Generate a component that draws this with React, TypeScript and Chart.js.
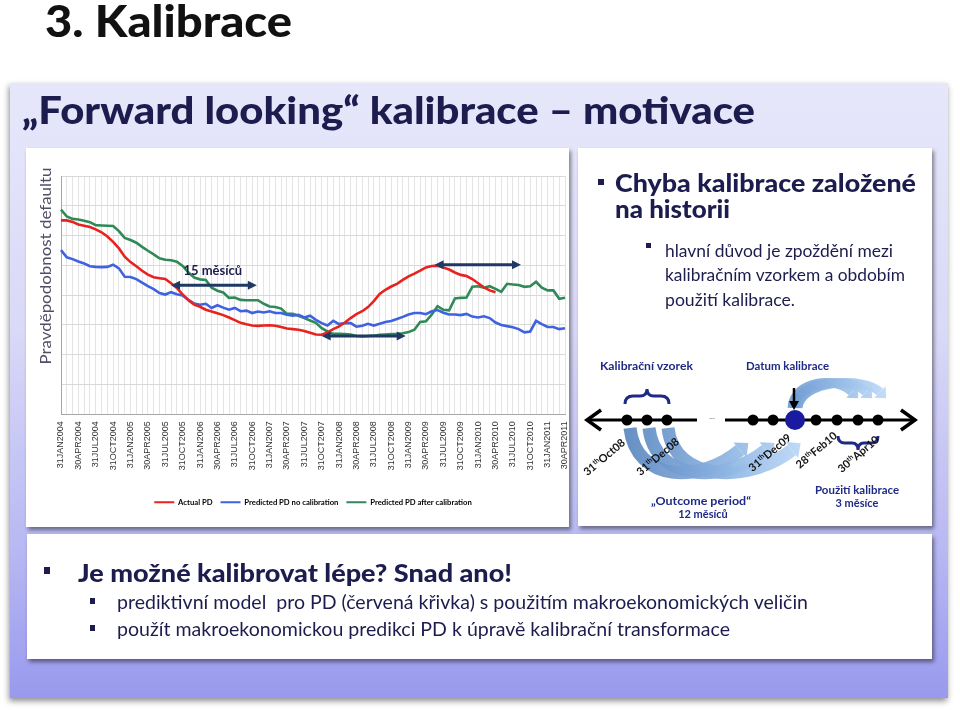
import { useEffect, useRef } from "react";
import { Chart, registerables } from "chart.js";

Chart.register(...registerables);

// ---------- DATA ----------
const monthLabels = [
  "31JAN2004","29FEB2004","31MAR2004","30APR2004","31MAY2004","30JUN2004","31JUL2004","31AUG2004","30SEP2004","31OCT2004","30NOV2004","31DEC2004",
  "31JAN2005","28FEB2005","31MAR2005","30APR2005","31MAY2005","30JUN2005","31JUL2005","31AUG2005","30SEP2005","31OCT2005","30NOV2005","31DEC2005",
  "31JAN2006","28FEB2006","31MAR2006","30APR2006","31MAY2006","30JUN2006","31JUL2006","31AUG2006","30SEP2006","31OCT2006","30NOV2006","31DEC2006",
  "31JAN2007","28FEB2007","31MAR2007","30APR2007","31MAY2007","30JUN2007","31JUL2007","31AUG2007","30SEP2007","31OCT2007","30NOV2007","31DEC2007",
  "31JAN2008","29FEB2008","31MAR2008","30APR2008","31MAY2008","30JUN2008","31JUL2008","31AUG2008","30SEP2008","31OCT2008","30NOV2008","31DEC2008",
  "31JAN2009","28FEB2009","31MAR2009","30APR2009","31MAY2009","30JUN2009","31JUL2009","31AUG2009","30SEP2009","31OCT2009","30NOV2009","31DEC2009",
  "31JAN2010","28FEB2010","31MAR2010","30APR2010","31MAY2010","30JUN2010","31JUL2010","31AUG2010","30SEP2010","31OCT2010","30NOV2010","31DEC2010",
  "31JAN2011","28FEB2011","31MAR2011","30APR2011",
];

const actualPD = [
  6.51,6.51,6.46,6.37,6.33,6.29,6.21,6.11,5.97,5.79,
  5.57,5.29,5.11,4.97,4.82,4.69,4.60,4.57,4.54,4.40,
  4.24,4.02,3.83,3.68,3.61,3.51,3.45,3.39,3.33,3.25,
  3.16,3.07,3.02,2.98,2.97,2.98,2.99,2.97,2.93,2.88,
  2.86,2.84,2.80,2.74,2.68,2.67,2.75,2.86,2.95,3.08,
  3.23,3.36,3.46,3.60,3.80,4.04,4.18,4.29,4.38,4.51,
  4.63,4.72,4.82,4.93,4.98,4.99,4.93,4.86,4.76,4.68,
  4.64,4.54,4.40,4.26,4.16,4.10,
  null,null,null,null,null,null,null,null,null,null,null,null,
];

const predictedNoCalibration = [
  5.51,5.27,5.21,5.13,5.06,4.97,4.95,4.94,4.95,5.02,
  4.90,4.62,4.61,4.54,4.42,4.30,4.20,4.07,4.02,4.10,
  4.03,3.99,3.84,3.72,3.68,3.71,3.57,3.66,3.58,3.51,
  3.57,3.46,3.48,3.40,3.45,3.42,3.46,3.40,3.40,3.34,
  3.31,3.34,3.25,3.31,3.17,3.06,2.98,3.14,3.03,3.06,
  3.06,2.94,2.97,3.04,2.98,3.04,3.10,3.13,3.20,3.27,
  3.35,3.40,3.40,3.36,3.46,3.50,3.41,3.35,3.35,3.33,
  3.37,3.28,3.25,3.29,3.23,3.08,3.00,2.96,2.92,2.86,
  2.75,2.78,3.14,3.03,2.93,2.93,2.86,2.89,
];

const predictedAfterCalibration = [
  6.87,6.64,6.56,6.54,6.50,6.45,6.35,6.34,6.33,6.32,
  6.15,5.92,5.85,5.76,5.62,5.49,5.37,5.24,5.19,5.17,
  5.12,4.98,4.76,4.59,4.53,4.51,4.25,4.15,4.09,3.91,
  3.92,3.84,3.83,3.83,3.83,3.71,3.62,3.60,3.55,3.37,
  3.37,3.31,3.23,3.15,3.07,2.89,2.78,2.70,2.70,2.69,
  2.68,2.63,2.61,2.63,2.64,2.67,2.68,2.69,2.70,2.72,
  2.76,2.84,3.10,3.12,3.35,3.63,3.51,3.49,3.89,3.91,
  3.92,4.28,4.30,4.25,4.30,4.21,4.11,4.38,4.36,4.34,
  4.28,4.30,4.45,4.25,4.16,4.16,3.88,3.91,
];

const seriesNames = ["Actual PD", "Predicted PD no calibration", "Predicted PD after calibration"];
const seriesColors = ["#e8231f", "#3f62e0", "#2f8a57"];

// lag annotations (category index range, value level)
const lagArrows = [
  { from: 19, to: 33.8, value: 4.33 },
  { from: 45, to: 59.5, value: 2.63 },
  { from: 64.5, to: 79.4, value: 5.02 },
];
const lagLabel = { text: "15 měsíců", index: 26.2, value: 4.68 };

const NAVY = "#1c1c4e";
const DIAG = "#1f2a86";

const arrowPlugin = {
  id: "lagArrows",
  afterDatasetsDraw(chart: any) {
    const { ctx } = chart;
    const x = chart.scales.x;
    const y = chart.scales.y;
    ctx.save();
    ctx.strokeStyle = "#1f3864";
    ctx.fillStyle = "#1f3864";
    ctx.lineWidth = 3;
    for (const a of lagArrows) {
      const x1 = x.getPixelForValue(a.from);
      const x2 = x.getPixelForValue(a.to);
      const yy = y.getPixelForValue(a.value);
      const h = 9, w = 4.5;
      ctx.beginPath();
      ctx.moveTo(x1 + h - 1, yy);
      ctx.lineTo(x2 - h + 1, yy);
      ctx.stroke();
      ctx.beginPath();
      ctx.moveTo(x1, yy); ctx.lineTo(x1 + h, yy - w); ctx.lineTo(x1 + h, yy + w); ctx.closePath(); ctx.fill();
      ctx.beginPath();
      ctx.moveTo(x2, yy); ctx.lineTo(x2 - h, yy - w); ctx.lineTo(x2 - h, yy + w); ctx.closePath(); ctx.fill();
    }
    ctx.font = "bold 13px Lato";
    ctx.fillStyle = NAVY;
    ctx.textAlign = "center";
    ctx.textBaseline = "alphabetic";
    ctx.fillText(lagLabel.text, x.getPixelForValue(lagLabel.index), y.getPixelForValue(lagLabel.value));
    ctx.restore();
  },
};

function curvedArrow(p0: number[], p1: number[], p2: number[], p3: number[], width: number, head: number, fill: string, key: string) {
  const dx = p3[0] - p2[0], dy = p3[1] - p2[1];
  const len = Math.hypot(dx, dy);
  const ux = dx / len, uy = dy / len;
  const nx = -uy, ny = ux;
  const tip = [p3[0] + ux * head * 1.1, p3[1] + uy * head * 1.1];
  const a = [p3[0] + nx * head, p3[1] + ny * head];
  const b = [p3[0] - nx * head, p3[1] - ny * head];
  return (
    <g key={key} opacity={0.92}>
      <path d={`M${p0[0]} ${p0[1]} C${p1[0]} ${p1[1]} ${p2[0]} ${p2[1]} ${p3[0]} ${p3[1]}`} stroke={fill} strokeWidth={width} fill="none" />
      <polygon points={`${tip[0]},${tip[1]} ${a[0]},${a[1]} ${b[0]},${b[1]}`} fill={fill} />
    </g>
  );
}

function DateLabel({ x, y, day, rest }: { x: number; y: number; day: string; rest: string }) {
  return (
    <text transform={`translate(${x},${y}) rotate(-40)`} textAnchor="end" fontWeight="bold" fontSize="11" fill="#111">
      {day}
      <tspan fontSize="7" dy="-4">th</tspan>
      <tspan dy="4">{rest}</tspan>
    </text>
  );
}

export default function App() {
  const canvasRef = useRef<HTMLCanvasElement>(null);

  useEffect(() => {
    if (!canvasRef.current) return;
    const data = [actualPD, predictedNoCalibration, predictedAfterCalibration];
    const chart = new Chart(canvasRef.current, {
      type: "line",
      data: {
        labels: monthLabels,
        datasets: data.map((d, i) => ({
          label: seriesNames[i],
          data: d,
          borderColor: seriesColors[i],
          backgroundColor: seriesColors[i],
          borderWidth: 2.6,
          pointRadius: 0,
          tension: 0,
          spanGaps: false,
        })),
      },
      options: {
        responsive: false,
        animation: false,
        layout: { padding: { left: 35, right: 4, top: 28, bottom: 11 } },
        plugins: {
          tooltip: { enabled: false },
          legend: {
            position: "bottom",
            labels: {
              boxWidth: 20,
              boxHeight: 2,
              padding: 8,
              color: "#000",
              font: { family: "Lato", size: 7.7, weight: "bold" },
              generateLabels: (c: any) =>
                (Chart.defaults.plugins.legend.labels.generateLabels as any)(c).map((l: any) => ({ ...l, lineWidth: 0 })),
            },
          },
        },
        scales: {
          x: {
            grid: { color: "#e4e4e4", drawTicks: false },
            border: { color: "#a6a6a6" },
            ticks: {
              autoSkip: false,
              maxRotation: 90,
              minRotation: 90,
              padding: 7,
              color: "#333",
              font: { family: "Liberation Sans", size: 9 },
              callback: (_v: any, i: number) => (i % 3 === 0 ? monthLabels[i] : ""),
            },
            afterFit: (s: any) => {
              s.height = 76;
              s.paddingLeft = 0;
              s.paddingRight = 0;
            },
          },
          y: {
            min: 0,
            max: 8,
            ticks: { display: false, stepSize: 1 },
            grid: { color: "#d9d9d9", drawTicks: false },
            border: { color: "#a6a6a6" },
            afterFit: (s: any) => {
              s.width = 0;
              s.paddingTop = 0;
              s.paddingBottom = 0;
            },
          },
        },
      } as any,
      plugins: [arrowPlugin],
    });
    return () => chart.destroy();
  }, []);

  const panelShadow = "2px 3px 4px rgba(0,0,0,0.45)";

  const lowerFan = [0, 1, 2].map((k) =>
    curvedArrow(
      [630 + 19 * k, 428],
      [636 + 19 * k, 482],
      [700 + 24 * k, 484],
      [740 + 26 * k, 450],
      13,
      10,
      "url(#lowFan)",
      "lf" + k
    )
  );
  const upperFan = [0, 1, 2].map((k) =>
    curvedArrow(
      [792 + 3 * k, 408],
      [794 + 3 * k, 380],
      [836 + 14 * k, 376],
      [852 + 14 * k, 392],
      9,
      8,
      "url(#upFan)",
      "uf" + k
    )
  );

  return (
    <div style={{ position: "absolute", left: 0, top: 0, width: 960, height: 711, overflow: "hidden", background: "#fff" }}>
      {/* lavender box */}
      <div
        style={{
          position: "absolute", left: 10, top: 83, width: 938, height: 615,
          background: "linear-gradient(180deg, #e7e7fb 0%, #d9d9f8 40%, #b9b9f3 75%, #9999ee 100%)",
          boxShadow: "-1px 3px 6px rgba(0,0,0,0.45)",
        }}
      />
      {/* left chart panel */}
      <div style={{ position: "absolute", left: 26, top: 148, width: 543, height: 379, background: "#fff", boxShadow: panelShadow }} />
      {/* right panel */}
      <div style={{ position: "absolute", left: 578, top: 148, width: 354, height: 378, background: "#fff", boxShadow: panelShadow }} />
      {/* bottom panel */}
      <div style={{ position: "absolute", left: 27, top: 534, width: 905, height: 125, background: "#fff", boxShadow: panelShadow }} />

      <canvas ref={canvasRef} width={543} height={379} style={{ position: "absolute", left: 26, top: 148, width: 543, height: 379 }} />

      <svg width={960} height={711} style={{ position: "absolute", left: 0, top: 0, pointerEvents: "none" }} fontFamily="Lato, sans-serif">
        <defs>
          <linearGradient id="lowFan" x1="625" y1="0" x2="815" y2="0" gradientUnits="userSpaceOnUse">
            <stop offset="0" stopColor="#5a86bf" />
            <stop offset="0.55" stopColor="#8fb6e3" />
            <stop offset="1" stopColor="#c3defa" />
          </linearGradient>
          <linearGradient id="upFan" x1="790" y1="0" x2="895" y2="0" gradientUnits="userSpaceOnUse">
            <stop offset="0" stopColor="#6e9bd2" />
            <stop offset="1" stopColor="#c5e0fb" />
          </linearGradient>
        </defs>

        {/* titles */}
        <text x={45} y={37} fontSize={43} fontWeight={900} fill="#111" textLength={247} lengthAdjust="spacingAndGlyphs">3. Kalibrace</text>
        <text x={22} y={124} fontSize={37} fontWeight={900} fill={NAVY} textLength={733} lengthAdjust="spacingAndGlyphs">„Forward looking“ kalibrace – motivace</text>

        {/* y axis title */}
        <text transform="translate(51,266) rotate(-90)" textAnchor="middle" fontSize={15} fill="#4f4f66" textLength={197} lengthAdjust="spacingAndGlyphs">Pravděpodobnost defaultu</text>

        {/* right panel text */}
        <rect x={598} y={179} width={6} height={6} fill={NAVY} />
        <text x={615} y={192} fontSize={24} fontWeight={900} fill={NAVY} textLength={301} lengthAdjust="spacingAndGlyphs">Chyba kalibrace založené</text>
        <text x={615} y={218} fontSize={24} fontWeight={900} fill={NAVY} textLength={115} lengthAdjust="spacingAndGlyphs">na historii</text>
        <rect x={646} y={243} width={5} height={5} fill={NAVY} />
        <text x={665} y={257} fontSize={17} fill={NAVY} textLength={228} lengthAdjust="spacingAndGlyphs">hlavní důvod je zpoždění mezi</text>
        <text x={665} y={281} fontSize={17} fill={NAVY} textLength={240} lengthAdjust="spacingAndGlyphs">kalibračním vzorkem a obdobím</text>
        <text x={665} y={306} fontSize={17} fill={NAVY} textLength={130} lengthAdjust="spacingAndGlyphs">použití kalibrace.</text>

        {/* timeline diagram */}
        <text x={600} y={370} fontSize={11} fontWeight="bold" fill={DIAG} textLength={93} lengthAdjust="spacingAndGlyphs">Kalibrační vzorek</text>
        <text x={746} y={370} fontSize={11} fontWeight="bold" fill={DIAG} textLength={83} lengthAdjust="spacingAndGlyphs">Datum kalibrace</text>

        {lowerFan}
        {upperFan}

        <path d="M625 404 Q625 396 633 396 L640 396 Q647 396 647 389 Q647 396 654 396 L661 396 Q669 396 669 404" stroke={DIAG} strokeWidth={3} fill="none" />
        <path d="M838 436 Q838 443 845 443 L852 443 Q858 443 858 450 Q858 443 864 443 L871 443 Q878 443 878 436" stroke={DIAG} strokeWidth={3} fill="none" />

        <line x1={588} y1={420} x2={697} y2={420} stroke="#000" strokeWidth={3} />
        <polyline points="601,410 587,420 601,430" stroke="#000" strokeWidth={3.5} fill="none" />
        <text x={712} y={419} textAnchor="middle" fontSize={8} fill="#666">...</text>
        <line x1={725} y1={420} x2={914} y2={420} stroke="#000" strokeWidth={3} />
        <polyline points="901,410 915,420 901,430" stroke="#000" strokeWidth={3.5} fill="none" />

        {[627, 647, 667, 753, 773, 816, 837, 858, 878].map((cx) => (
          <circle key={cx} cx={cx} cy={420} r={5.5} fill="#000" />
        ))}
        <circle cx={795} cy={420} r={10} fill="#1a1a9e" />
        <line x1={794} y1={388} x2={794} y2={402} stroke="#000" strokeWidth={2.5} />
        <polygon points="789,401 799,401 794,410" fill="#000" />

        <DateLabel x={626} y={444} day="31" rest="Oct08" />
        <DateLabel x={680} y={443} day="31" rest="Dec08" />
        <DateLabel x={792} y={439} day="31" rest="Dec09" />
        <DateLabel x={838} y={437} day="28" rest="Feb10" />
        <DateLabel x={880} y={441} day="30" rest="Apr10" />

        <text x={651} y={505} fontSize={11} fontWeight="bold" fill={DIAG} textLength={100} lengthAdjust="spacingAndGlyphs">„Outcome period“</text>
        <text x={703} y={518} textAnchor="middle" fontSize={11} fontWeight="bold" fill={DIAG}>12 měsíců</text>
        <text x={815} y={494} fontSize={11} fontWeight="bold" fill={DIAG} textLength={84} lengthAdjust="spacingAndGlyphs">Použití kalibrace</text>
        <text x={857} y={507} textAnchor="middle" fontSize={11} fontWeight="bold" fill={DIAG}>3 měsíce</text>

        {/* bottom panel text */}
        <rect x={44} y={567} width={6} height={7} fill={NAVY} />
        <text x={78} y={582} fontSize={24} fontWeight={900} fill={NAVY} textLength={434} lengthAdjust="spacingAndGlyphs">Je možné kalibrovat lépe? Snad ano!</text>
        <rect x={90} y={598} width={5} height={6} fill={NAVY} />
        <text x={117} y={609} fontSize={19} fill={NAVY} textLength={691} lengthAdjust="spacingAndGlyphs" style={{ whiteSpace: "pre" }}>prediktivní model  pro PD (červená křivka) s použitím makroekonomických veličin</text>
        <rect x={90} y={625} width={5} height={6} fill={NAVY} />
        <text x={117} y={636} fontSize={19} fill={NAVY} textLength={613} lengthAdjust="spacingAndGlyphs">použít makroekonomickou predikci PD k úpravě kalibrační transformace</text>
      </svg>
    </div>
  );
}
